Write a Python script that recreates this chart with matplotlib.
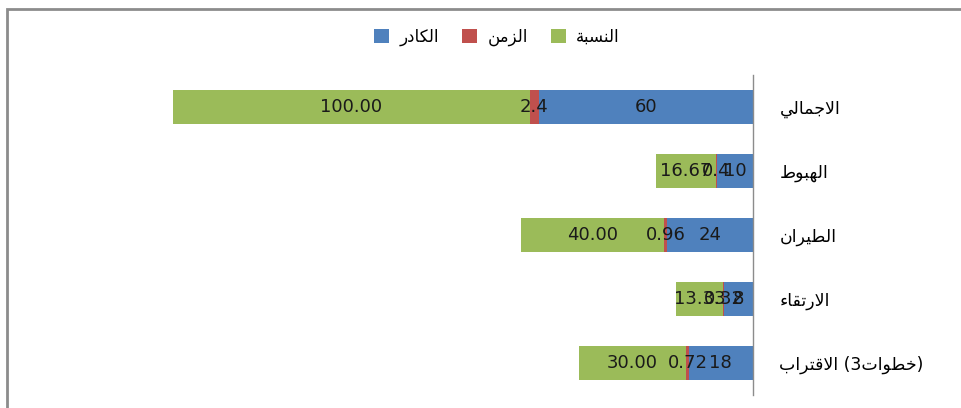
import matplotlib
matplotlib.use("Agg")
import matplotlib.pyplot as plt
from matplotlib.patches import Rectangle, Patch
import numpy as np

# ---------------- data ----------------
categories = ["الاجمالي", "الهبوط", "الطيران", "الارتقاء", "الاقتراب (3خطوات)"]
series_names = ["الكادر", "الزمن", "النسبة"]
kadr = [60, 10, 24, 8, 18]
zaman = [2.4, 0.4, 0.96, 0.32, 0.72]
nisba = [100.00, 16.67, 40.00, 13.33, 30.00]
kadr_labels = ["60", "10", "24", "8", "18"]
zaman_labels = ["2.4", "0.4", "0.96", "0.32", "0.72"]
nisba_labels = ["100.00", "16.67", "40.00", "13.33", "30.00"]

colors = ["#4F81BD", "#C0504D", "#9BBB59"]

# ------------- minimal Arabic shaping (presentation forms) -------------
DUAL = {
    'ب': 0xFE8F, 'ت': 0xFE95, 'ج': 0xFE9D, 'خ': 0xFEA5, 'س': 0xFEB1,
    'ط': 0xFEC1, 'ق': 0xFED5, 'ك': 0xFED9, 'ل': 0xFEDD, 'م': 0xFEE1,
    'ن': 0xFEE5, 'ه': 0xFEE9, 'ي': 0xFEF1,
}
RIGHT = {
    'ا': 0xFE8D, 'ة': 0xFE93, 'د': 0xFEA9, 'ر': 0xFEAD, 'ز': 0xFEAF,
    'و': 0xFEED, 'LA': 0xFEFB,
}
NONJ = {'ء': 0xFE80}


def is_arabic(c):
    return '\u0600' <= c <= '\u06FF'


def shape_word(word):
    units = []
    i = 0
    while i < len(word):
        if word[i] == 'ل' and i + 1 < len(word) and word[i + 1] == 'ا':
            units.append('LA')
            i += 2
        else:
            units.append(word[i])
            i += 1
    out = []
    for k, u in enumerate(units):
        prev = units[k - 1] if k > 0 else None
        nxt = units[k + 1] if k + 1 < len(units) else None
        jp = prev in DUAL and (u in DUAL or u in RIGHT)
        jn = u in DUAL and (nxt in DUAL or nxt in RIGHT)
        if u in DUAL:
            base = DUAL[u]
            if jp and jn:
                out.append(chr(base + 3))
            elif jp:
                out.append(chr(base + 1))
            elif jn:
                out.append(chr(base + 2))
            else:
                out.append(chr(base))
        elif u in RIGHT:
            out.append(chr(RIGHT[u] + (1 if jp else 0)))
        elif u in NONJ:
            out.append(chr(NONJ[u]))
        else:
            out.append(u)
    return ''.join(out)


def visual(text):
    runs = []
    cur = ''
    cur_ar = None
    for c in text:
        a = is_arabic(c)
        if cur and a != cur_ar:
            runs.append((cur, cur_ar))
            cur = ''
        cur += c
        cur_ar = a
    if cur:
        runs.append((cur, cur_ar))
    res = ''
    for r, a in runs:
        res += shape_word(r)[::-1] if a else r
    return res


plt.rcParams['font.family'] = ['DejaVu Sans']

fig = plt.figure(figsize=(9.61, 4.08), dpi=100)
W, H = 961, 408
ax = fig.add_axes([110 / W, 1 - 395 / H, (753 - 110) / W, (395 - 75) / H])

y = np.arange(len(categories))
h = 0.52
left = np.zeros(len(categories))
all_labels = [kadr_labels, zaman_labels, nisba_labels]
for vals, col, labs in zip([kadr, zaman, nisba], colors, all_labels):
    b = ax.barh(y, vals, left=left, height=h, color=col, edgecolor='none')
    ax.bar_label(b, labels=labs, label_type='center', fontsize=13, color='#1a1a1a')
    left = left + np.array(vals)

ax.set_xlim(180, 0)
ax.set_ylim(len(categories) - 0.5, -0.5)

ax.yaxis.tick_right()
ax.set_yticks(y)
ax.set_yticklabels([visual(c) for c in categories], fontsize=12.5)
ax.tick_params(axis='y', length=0, pad=19)
ax.set_xticks([])
for s in ['top', 'bottom', 'left']:
    ax.spines[s].set_visible(False)
ax.spines['right'].set_color('#8c8c8c')
ax.spines['right'].set_linewidth(1.0)

handles = [Patch(facecolor=c, edgecolor='none') for c in colors]
fig.legend(handles, [visual(s) for s in series_names], loc='center',
           bbox_to_anchor=(497 / W, 1 - 37 / H), ncol=3, frameon=False,
           fontsize=12, handlelength=0.9, handleheight=0.9,
           handletextpad=0.6, columnspacing=1.4)

# outer chart frame (left and top visible)
fig.patches.append(Rectangle((7 / W, -0.1), 1.2, 1.1 - 9 / H,
                             transform=fig.transFigure, fill=False,
                             edgecolor='#8c8c8c', linewidth=2.0))

fig.savefig('out.png', dpi=100)
